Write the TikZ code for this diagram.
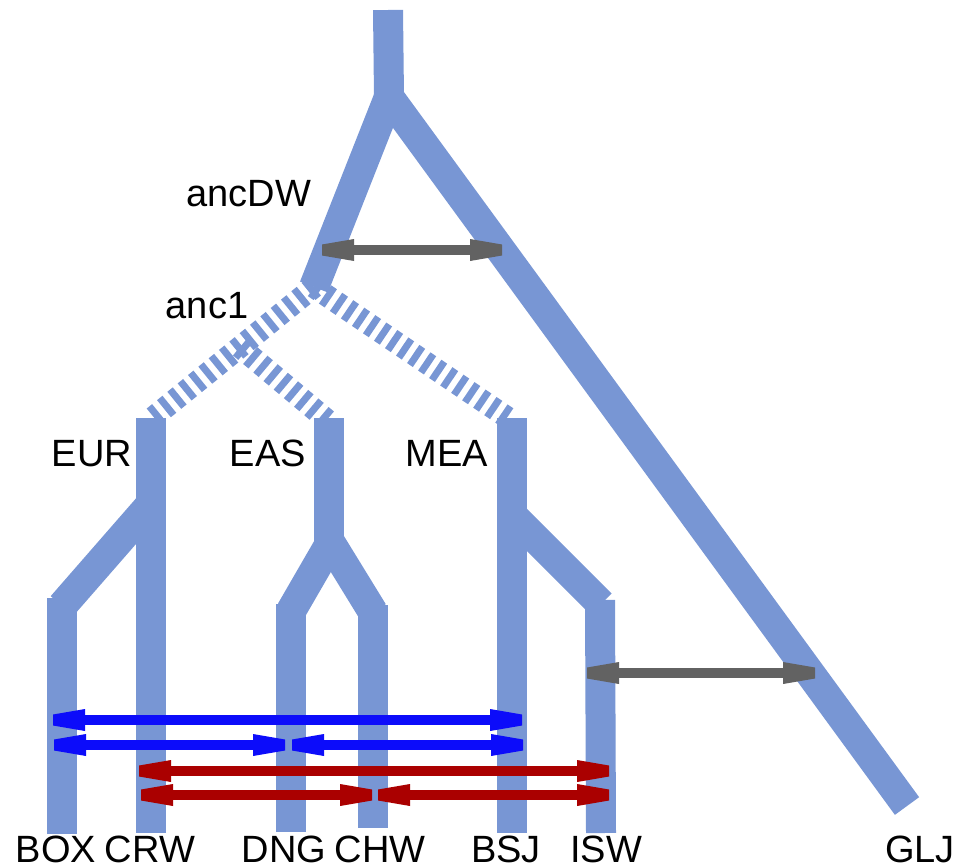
\documentclass[tikz,border=0pt]{standalone}
\usepackage{fontspec}
\setmainfont{Liberation Sans}
\usetikzlibrary{arrows.meta}
\definecolor{branch}{RGB}{120,150,212}
\definecolor{bluearr}{RGB}{12,12,250}
\definecolor{redarr}{RGB}{170,0,0}
\definecolor{grayarr}{RGB}{98,98,98}
\pgfdeclarearrow{
  name = Trap,
  setup code = {
    \pgfarrowssettipend{0pt}
    \pgfarrowssetlineend{-16pt}
    \pgfarrowssetbackend{-32pt}
    \pgfarrowssetvisualbackend{-32pt}
    \pgfarrowshullpoint{0pt}{5pt}
    \pgfarrowshullpoint{0pt}{-5pt}
    \pgfarrowshullpoint{-32pt}{11pt}
    \pgfarrowshullpoint{-32pt}{-11pt}
  },
  drawing code = {
    \pgfpathmoveto{\pgfqpoint{0pt}{5.5pt}}
    \pgfpathlineto{\pgfqpoint{-32pt}{11pt}}
    \pgfpathlineto{\pgfqpoint{-32pt}{-11pt}}
    \pgfpathlineto{\pgfqpoint{0pt}{-5.5pt}}
    \pgfpathclose
    \pgfusepathqfill
  }
}
\begin{document}
\begin{tikzpicture}[x=1pt,y=-1pt,
  br/.style={draw=branch, line width=30pt},
  anc/.style={draw=branch, line width=22pt, dash pattern=on 7pt off 6.3pt},
  lab/.style={anchor=base, font=\fontsize{38}{42}\selectfont, inner sep=0pt},
  flow/.style={line width=10pt, {Trap}-{Trap}},
]
\useasboundingbox (0,0) rectangle (957,865);
% tree points
\coordinate (rootT) at (388,10);
\coordinate (rootB) at (389,97);
\coordinate (anc1) at (314,287);
\coordinate (gljE) at (907,806);
\coordinate (eurT) at (151,418);
\coordinate (crwB) at (151,833);
\coordinate (boxJ) at (151,504);
\coordinate (boxD) at (62,606);
\coordinate (boxT) at (62,598);
\coordinate (boxB) at (62,834);
\coordinate (easT) at (329,418);
\coordinate (easS) at (329,545);
\coordinate (dngJ) at (328,547);
\coordinate (dngD) at (291,611);
\coordinate (dngT) at (291,604);
\coordinate (dngB) at (291,832);
\coordinate (chwJ) at (330,542);
\coordinate (chwD) at (373,612);
\coordinate (chwT) at (373,605);
\coordinate (chwB) at (373,828);
\coordinate (meaT) at (512,418);
\coordinate (bsjB) at (512,833);
\coordinate (iswJ) at (512,515);
\coordinate (iswD) at (601,604);
\coordinate (iswT) at (600,600);
\coordinate (iswB) at (601,833);
% dashed ends
\coordinate (eurD) at (150,420);
\coordinate (easA) at (240,347);
\coordinate (easD) at (327,420);
\coordinate (meaD) at (511,420);

% solid branches
\draw[br] (rootT) -- (rootB);
\draw[br] (rootB) -- (anc1);
\draw[br] (rootB) -- (gljE);
\draw[br] (eurT) -- (crwB);
\draw[br] (boxJ) -- (boxD);
\draw[br] (boxT) -- (boxB);
\draw[br] (easT) -- (easS);
\draw[br] (dngJ) -- (dngD);
\draw[br] (dngT) -- (dngB);
\draw[br] (chwJ) -- (chwD);
\draw[br] (chwT) -- (chwB);
\draw[br] (meaT) -- (bsjB);
\draw[br] (iswJ) -- (iswD);
\draw[br] (iswT) -- (iswB);
% dashed ancestral links
\draw[anc] (anc1) -- (eurD);
\draw[anc] (anc1) -- (meaD);
\draw[anc] (easA) -- (easD);

% gene-flow arrows
\coordinate (g1a) at (322,250); \coordinate (g1b) at (502,250);
\coordinate (g2a) at (587,673); \coordinate (g2b) at (815,673);
\coordinate (b1a) at (53,720);  \coordinate (b1b) at (522,720);
\coordinate (b2a) at (54,745);  \coordinate (b2b) at (285,745);
\coordinate (b3a) at (292,745); \coordinate (b3b) at (523,745);
\coordinate (r1a) at (139,771); \coordinate (r1b) at (609,771);
\coordinate (r2a) at (141,795); \coordinate (r2b) at (372,795);
\coordinate (r3a) at (378,795); \coordinate (r3b) at (609,795);
\draw[flow, grayarr] (g1a) -- (g1b);
\draw[flow, grayarr] (g2a) -- (g2b);
\draw[flow, bluearr] (b1a) -- (b1b);
\draw[flow, bluearr] (b2a) -- (b2b);
\draw[flow, bluearr] (b3a) -- (b3b);
\draw[flow, redarr] (r1a) -- (r1b);
\draw[flow, redarr] (r2a) -- (r2b);
\draw[flow, redarr] (r3a) -- (r3b);

% labels
\node[lab] (lancDW) at (249,206) {ancDW};
\node[lab] (lanc1) at (207,318) {anc1};
\node[lab] (lEUR) at (92,466) {EUR};
\node[lab] (lEAS) at (268,466) {EAS};
\node[lab] (lMEA) at (447,466) {MEA};
\node[lab] (lBOX) at (56,862) {BOX};
\node[lab] (lCRW) at (150,862) {CRW};
\node[lab] (lDNG) at (284,862) {DNG};
\node[lab] (lCHW) at (380,862) {CHW};
\node[lab] (lBSJ) at (506,862) {BSJ};
\node[lab] (lISW) at (606,862) {ISW};
\node[lab] (lGLJ) at (920,862) {GLJ};
\end{tikzpicture}
\end{document}
